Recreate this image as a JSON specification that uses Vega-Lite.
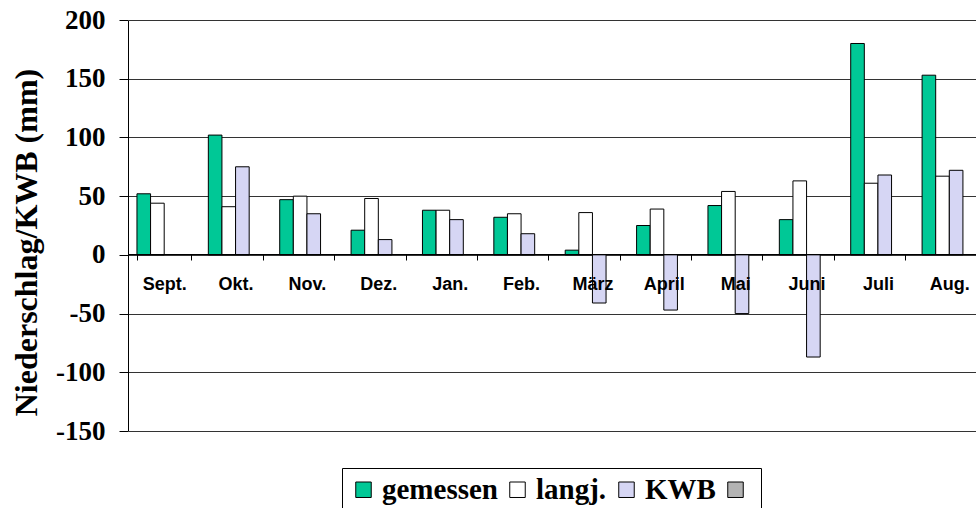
{
  "$schema": "https://vega.github.io/schema/vega-lite/v6.json",
  "autosize": {"type": "none"},
  "width": 848,
  "height": 411,
  "padding": {"left": 128, "top": 20, "right": 0, "bottom": 77},
  "background": "white",
  "config": {"view": {"stroke": null}},
  "data": {
    "values": [
      {"Monat": "Sept.", "Reihe": "gemessen", "Wert": 52},
      {"Monat": "Sept.", "Reihe": "langj.", "Wert": 44},
      {"Monat": "Okt.", "Reihe": "gemessen", "Wert": 102},
      {"Monat": "Okt.", "Reihe": "langj.", "Wert": 41},
      {"Monat": "Okt.", "Reihe": "KWB", "Wert": 75},
      {"Monat": "Nov.", "Reihe": "gemessen", "Wert": 47},
      {"Monat": "Nov.", "Reihe": "langj.", "Wert": 50},
      {"Monat": "Nov.", "Reihe": "KWB", "Wert": 35},
      {"Monat": "Dez.", "Reihe": "gemessen", "Wert": 21},
      {"Monat": "Dez.", "Reihe": "langj.", "Wert": 48},
      {"Monat": "Dez.", "Reihe": "KWB", "Wert": 13},
      {"Monat": "Jan.", "Reihe": "gemessen", "Wert": 38},
      {"Monat": "Jan.", "Reihe": "langj.", "Wert": 38},
      {"Monat": "Jan.", "Reihe": "KWB", "Wert": 30},
      {"Monat": "Feb.", "Reihe": "gemessen", "Wert": 32},
      {"Monat": "Feb.", "Reihe": "langj.", "Wert": 35},
      {"Monat": "Feb.", "Reihe": "KWB", "Wert": 18},
      {"Monat": "März", "Reihe": "gemessen", "Wert": 4},
      {"Monat": "März", "Reihe": "langj.", "Wert": 36},
      {"Monat": "März", "Reihe": "KWB", "Wert": -41},
      {"Monat": "April", "Reihe": "gemessen", "Wert": 25},
      {"Monat": "April", "Reihe": "langj.", "Wert": 39},
      {"Monat": "April", "Reihe": "KWB", "Wert": -47},
      {"Monat": "Mai", "Reihe": "gemessen", "Wert": 42},
      {"Monat": "Mai", "Reihe": "langj.", "Wert": 54},
      {"Monat": "Mai", "Reihe": "KWB", "Wert": -50},
      {"Monat": "Juni", "Reihe": "gemessen", "Wert": 30},
      {"Monat": "Juni", "Reihe": "langj.", "Wert": 63},
      {"Monat": "Juni", "Reihe": "KWB", "Wert": -87},
      {"Monat": "Juli", "Reihe": "gemessen", "Wert": 180},
      {"Monat": "Juli", "Reihe": "langj.", "Wert": 61},
      {"Monat": "Juli", "Reihe": "KWB", "Wert": 68},
      {"Monat": "Aug.", "Reihe": "gemessen", "Wert": 153},
      {"Monat": "Aug.", "Reihe": "langj.", "Wert": 67},
      {"Monat": "Aug.", "Reihe": "KWB", "Wert": 72}
    ]
  },
  "mark": {"type": "bar", "stroke": "black", "strokeWidth": 1, "opacity": 1},
  "encoding": {
    "x": {
      "field": "Monat",
      "type": "nominal",
      "scale": {
        "domain": ["Sept.", "Okt.", "Nov.", "Dez.", "Jan.", "Feb.", "März", "April", "Mai", "Juni", "Juli", "Aug."],
        "range": [0.5, 857],
        "paddingInner": 0.237,
        "paddingOuter": 0.1185
      },
      "axis": {
        "title": null,
        "orient": "bottom",
        "offset": -177,
        "zindex": 1,
        "domain": true,
        "domainColor": "black",
        "domainWidth": 1,
        "ticks": true,
        "tickBand": "extent",
        "tickSize": 6,
        "tickColor": "black",
        "labelAngle": 0,
        "labelFont": "Liberation Sans",
        "labelFontSize": 18,
        "labelFontWeight": "bold",
        "labelColor": "black",
        "labelPadding": 15,
        "grid": false
      }
    },
    "xOffset": {
      "field": "Reihe",
      "type": "nominal",
      "scale": {"domain": ["gemessen", "langj.", "KWB", "leer"], "paddingInner": 0, "paddingOuter": 0}
    },
    "y": {
      "field": "Wert",
      "type": "quantitative",
      "scale": {"domain": [-150, 200], "nice": false, "zero": false},
      "axis": {
        "values": [-150, -100, -50, 0, 50, 100, 150, 200],
        "labelExpr": "toString(datum.value)",
        "title": "Niederschlag/KWB (mm)",
        "titleFont": "Liberation Serif",
        "titleFontWeight": "bold",
        "titleFontSize": 32,
        "titleColor": "black",
        "titleX": -102,
        "titleY": 222,
        "titleAngle": -90,
        "titleAlign": "center",
        "titleBaseline": "middle",
        "labelFont": "Liberation Serif",
        "labelFontWeight": "bold",
        "labelFontSize": 27,
        "labelColor": "black",
        "labelPadding": 14,
        "labelBaseline": "middle",
        "tickSize": 9,
        "tickColor": "black",
        "domainColor": "black",
        "grid": true,
        "gridColor": "#333333",
        "gridWidth": 1
      }
    },
    "fill": {
      "field": "Reihe",
      "type": "nominal",
      "scale": {
        "domain": ["gemessen", "langj.", "KWB", "leer"],
        "range": ["#00c896", "#ffffff", "#d6d6f4", "#b3b3b3"]
      },
      "legend": {
        "orient": "none",
        "legendX": 214,
        "legendY": 448,
        "direction": "horizontal",
        "columns": 4,
        "title": null,
        "strokeColor": "black",
        "fillColor": "white",
        "padding": 7,
        "symbolType": "square",
        "symbolSize": 240,
        "symbolStrokeColor": "black",
        "symbolStrokeWidth": 1,
        "symbolOpacity": 1,
        "labelFont": "Liberation Serif",
        "labelFontWeight": "bold",
        "labelFontSize": 29,
        "labelColor": "black",
        "labelOffset": 4,
        "columnPadding": 5,
        "labelExpr": "datum.label == 'leer' ? '' : datum.label"
      }
    }
  }
}
